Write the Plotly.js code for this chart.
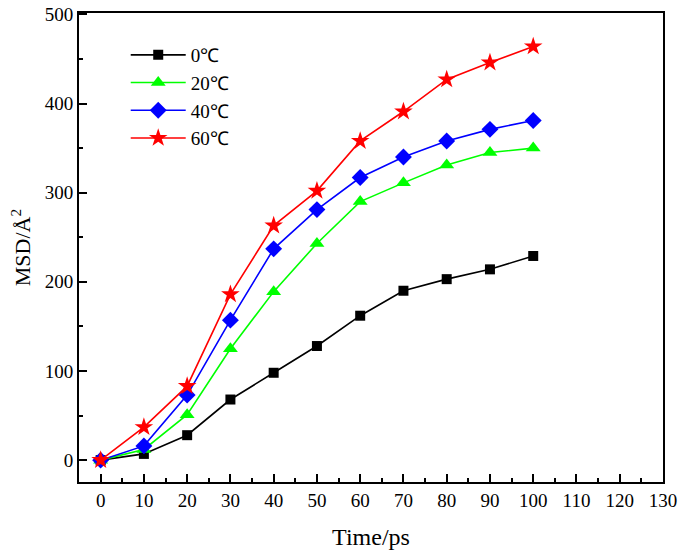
<!DOCTYPE html>
<html>
<head>
<meta charset="utf-8">
<script src="https://cdn.plot.ly/plotly-3.0.1.min.js"></script>
<style>html,body{margin:0;padding:0;background:#fff}#chart{width:685px;height:557px}</style>
</head>
<body>
<div id="chart"></div>
<script>
const time = [0, 10, 20, 30, 40, 50, 60, 70, 80, 90, 100];
const msd0 = [0, 7, 28, 68, 98, 128, 162, 190, 203, 214, 229];
const msd20 = [0, 12, 51, 125, 189, 243, 290, 311, 331, 345, 350];
const msd40 = [0, 16, 73, 157, 237, 281, 317, 340, 358, 371, 381];
const msd60 = [0, 37, 83, 186, 263, 302, 358, 391, 427, 446, 464];
const seriesNames = ['0\u2103', '20\u2103', '40\u2103', '60\u2103'];
const xTicks = [0,10,20,30,40,50,60,70,80,90,100,110,120,130];
const yTicks = [0,100,200,300,400,500];

const font = 'Liberation Serif, Times New Roman, serif';
const colors = ['#000000', '#00ff00', '#0000ff', '#ff0000'];
const symbols = ['square', 'triangle-up', 'diamond', 'star'];
const sizes = [10, 13, 13, 14];
const ys = [msd0, msd20, msd40, msd60];

const traces = ys.map((y, i) => ({
  x: time, y: y, name: seriesNames[i], type: 'scatter', mode: 'lines+markers',
  line: {color: colors[i], width: 1.6},
  marker: {color: colors[i], symbol: symbols[i], size: sizes[i], line: {width: 0}}
}));

const layout = {
  width: 685, height: 557,
  margin: {l: 79, r: 22, t: 13, b: 75},
  paper_bgcolor: '#fff', plot_bgcolor: '#fff',
  showlegend: true,
  legend: {x: 0.08, y: 0.951, xanchor: 'left', yanchor: 'top', bgcolor: 'rgba(0,0,0,0)',
           font: {family: font, size: 19, color: '#000'}, tracegroupgap: 0, itemwidth: 55},
  xaxis: {
    range: [-5, 130], tickvals: xTicks, ticktext: xTicks.map(String),
    ticks: 'inside', ticklen: 8, tickwidth: 2, tickcolor: '#000',
    minor: {dtick: 5, tick0: 0, ticks: 'inside', ticklen: 4, tickwidth: 2, tickcolor: '#000'},
    showline: true, linewidth: 2, linecolor: '#000', mirror: true,
    showgrid: false, zeroline: false,
    tickfont: {family: font, size: 19, color: '#000'},
    title: {text: 'Time/ps', font: {family: font, size: 24, color: '#000'}, standoff: 18}
  },
  yaxis: {
    range: [-24.5, 501.5], tickvals: yTicks, ticktext: yTicks.map(String),
    ticks: 'inside', ticklen: 8, tickwidth: 2, tickcolor: '#000',
    minor: {dtick: 50, tick0: 0, ticks: 'inside', ticklen: 4, tickwidth: 2, tickcolor: '#000'},
    showline: true, linewidth: 2, linecolor: '#000', mirror: true,
    showgrid: false, zeroline: false,
    tickfont: {family: font, size: 19, color: '#000'},
    title: {text: 'MSD/\u00c5<sup>2</sup>', font: {family: font, size: 22, color: '#000'}, standoff: 8}
  }
};

Plotly.newPlot('chart', traces, layout, {displayModeBar: false, staticPlot: true});
</script>
</body>
</html>
